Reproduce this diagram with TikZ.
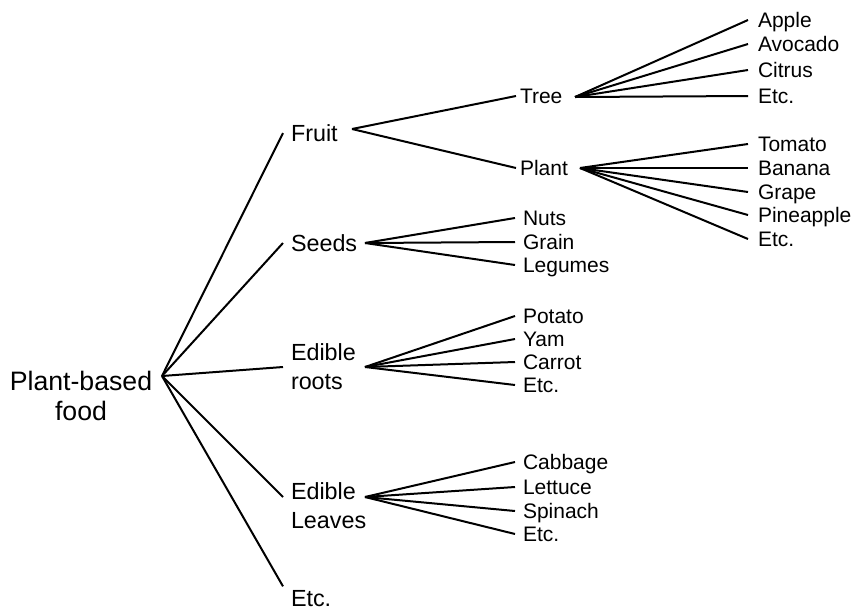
\documentclass[tikz,border=0pt]{standalone}
\usepackage{fontspec}
\setmainfont{Liberation Sans}

\begin{document}
\begin{tikzpicture}[x=0.75pt, y=-0.75pt,
		root/.style={align=center, inner sep=0pt, font=\fontsize{20}{22.5}\selectfont},
		cat/.style={anchor=west, inner sep=0pt, outer xsep=6pt, font=\fontsize{17.5}{21.75}\selectfont},
		catline/.style={cat, text height=12.5pt, text depth=0pt},
		catbox/.style={cat, align=left},
		sub/.style={anchor=west, inner sep=0pt, outer xsep=3pt, text height=11.3pt, text depth=0pt, font=\fontsize{15.75}{19}\selectfont},
		item/.style={sub, outer xsep=6pt},
		leaf/.style={sub, outer xsep=7.5pt},
		branch/.style={line width=1.5pt}]
			%%%%% START %%%%%
			
			\useasboundingbox (0, 0) rectangle (858, 612);
			
			\node[root] (food) at (81, 396) {Plant-based\\food};
			\coordinate (foodHub) at (162, 376);
			
			\node[catline] (fruit) at (283, 133) {Fruit};
			\node[catline] (seeds) at (283, 243) {Seeds};
			\node[catbox] (roots) at (283, 367) {Edible\\roots};
			\node[catbox] (leaves) at (283, 506) {Edible\\Leaves};
			\node[catline, outer ysep=2.5pt] (etcFood) at (283, 598) {Etc.};
			
			\coordinate (fruitHub) at (352, 129);
			\coordinate (seedsHub) at (365, 243);
			\coordinate (rootsHub) at (365, 367);
			\coordinate (leavesHub) at (365, 497);
			
			\draw[branch] (foodHub) -- (fruit.west);
			\draw[branch] (foodHub) -- (seeds.west);
			\draw[branch] (foodHub) -- (roots.west);
			\draw[branch] (foodHub) -- (leaves.west |- leavesHub);
			\draw[branch] (foodHub) -- (etcFood.north west);
			
			% fruit
			\node[sub] (tree) at (516, 96) {Tree};
			\node[sub] (plant) at (516, 168) {Plant};
			\coordinate (treeHub) at (575, 97);
			\coordinate (plantHub) at (580, 168);
			
			\draw[branch] (fruitHub) -- (tree.west);
			\draw[branch] (fruitHub) -- (plant.west);
			
			\node[leaf] (apple) at (748, 20) {Apple};
			\node[leaf] (avocado) at (748, 44) {Avocado};
			\node[leaf] (citrus) at (748, 70) {Citrus};
			\node[leaf] (etcTree) at (748, 96) {Etc.};
			
			\draw[branch] (treeHub) -- (apple.west);
			\draw[branch] (treeHub) -- (avocado.west);
			\draw[branch] (treeHub) -- (citrus.west);
			\draw[branch] (treeHub) -- (etcTree.west);
			
			\node[leaf] (tomato) at (748, 144) {Tomato};
			\node[leaf] (banana) at (748, 168) {Banana};
			\node[leaf] (grape) at (748, 192) {Grape};
			\node[leaf] (pineapple) at (748, 215) {Pineapple};
			\node[leaf] (etcPlant) at (748, 239) {Etc.};
			
			\draw[branch] (plantHub) -- (tomato.west);
			\draw[branch] (plantHub) -- (banana.west);
			\draw[branch] (plantHub) -- (grape.west);
			\draw[branch] (plantHub) -- (pineapple.west);
			\draw[branch] (plantHub) -- (etcPlant.west);
			
			% seeds
			\node[item] (nuts) at (515, 218) {Nuts};
			\node[item] (grain) at (515, 242) {Grain};
			\node[item] (legumes) at (515, 265) {Legumes};
			
			\draw[branch] (seedsHub) -- (nuts.west);
			\draw[branch] (seedsHub) -- (grain.west);
			\draw[branch] (seedsHub) -- (legumes.west);
			
			% roots
			\node[item] (potato) at (515, 316) {Potato};
			\node[item] (yam) at (515, 339) {Yam};
			\node[item] (carrot) at (515, 362) {Carrot};
			\node[item] (etcRoots) at (515, 385) {Etc.};
			
			\draw[branch] (rootsHub) -- (potato.west);
			\draw[branch] (rootsHub) -- (yam.west);
			\draw[branch] (rootsHub) -- (carrot.west);
			\draw[branch] (rootsHub) -- (etcRoots.west);
			
			% leaves
			\node[item] (cabbage) at (515, 462) {Cabbage};
			\node[item] (lettuce) at (515, 487) {Lettuce};
			\node[item] (spinach) at (515, 511) {Spinach};
			\node[item] (etcLeaves) at (515, 534) {Etc.};
			
			\draw[branch] (leavesHub) -- (cabbage.west);
			\draw[branch] (leavesHub) -- (lettuce.west);
			\draw[branch] (leavesHub) -- (spinach.west);
			\draw[branch] (leavesHub) -- (etcLeaves.west);
			
			%%%%% END %%%%%
\end{tikzpicture}
\end{document}
